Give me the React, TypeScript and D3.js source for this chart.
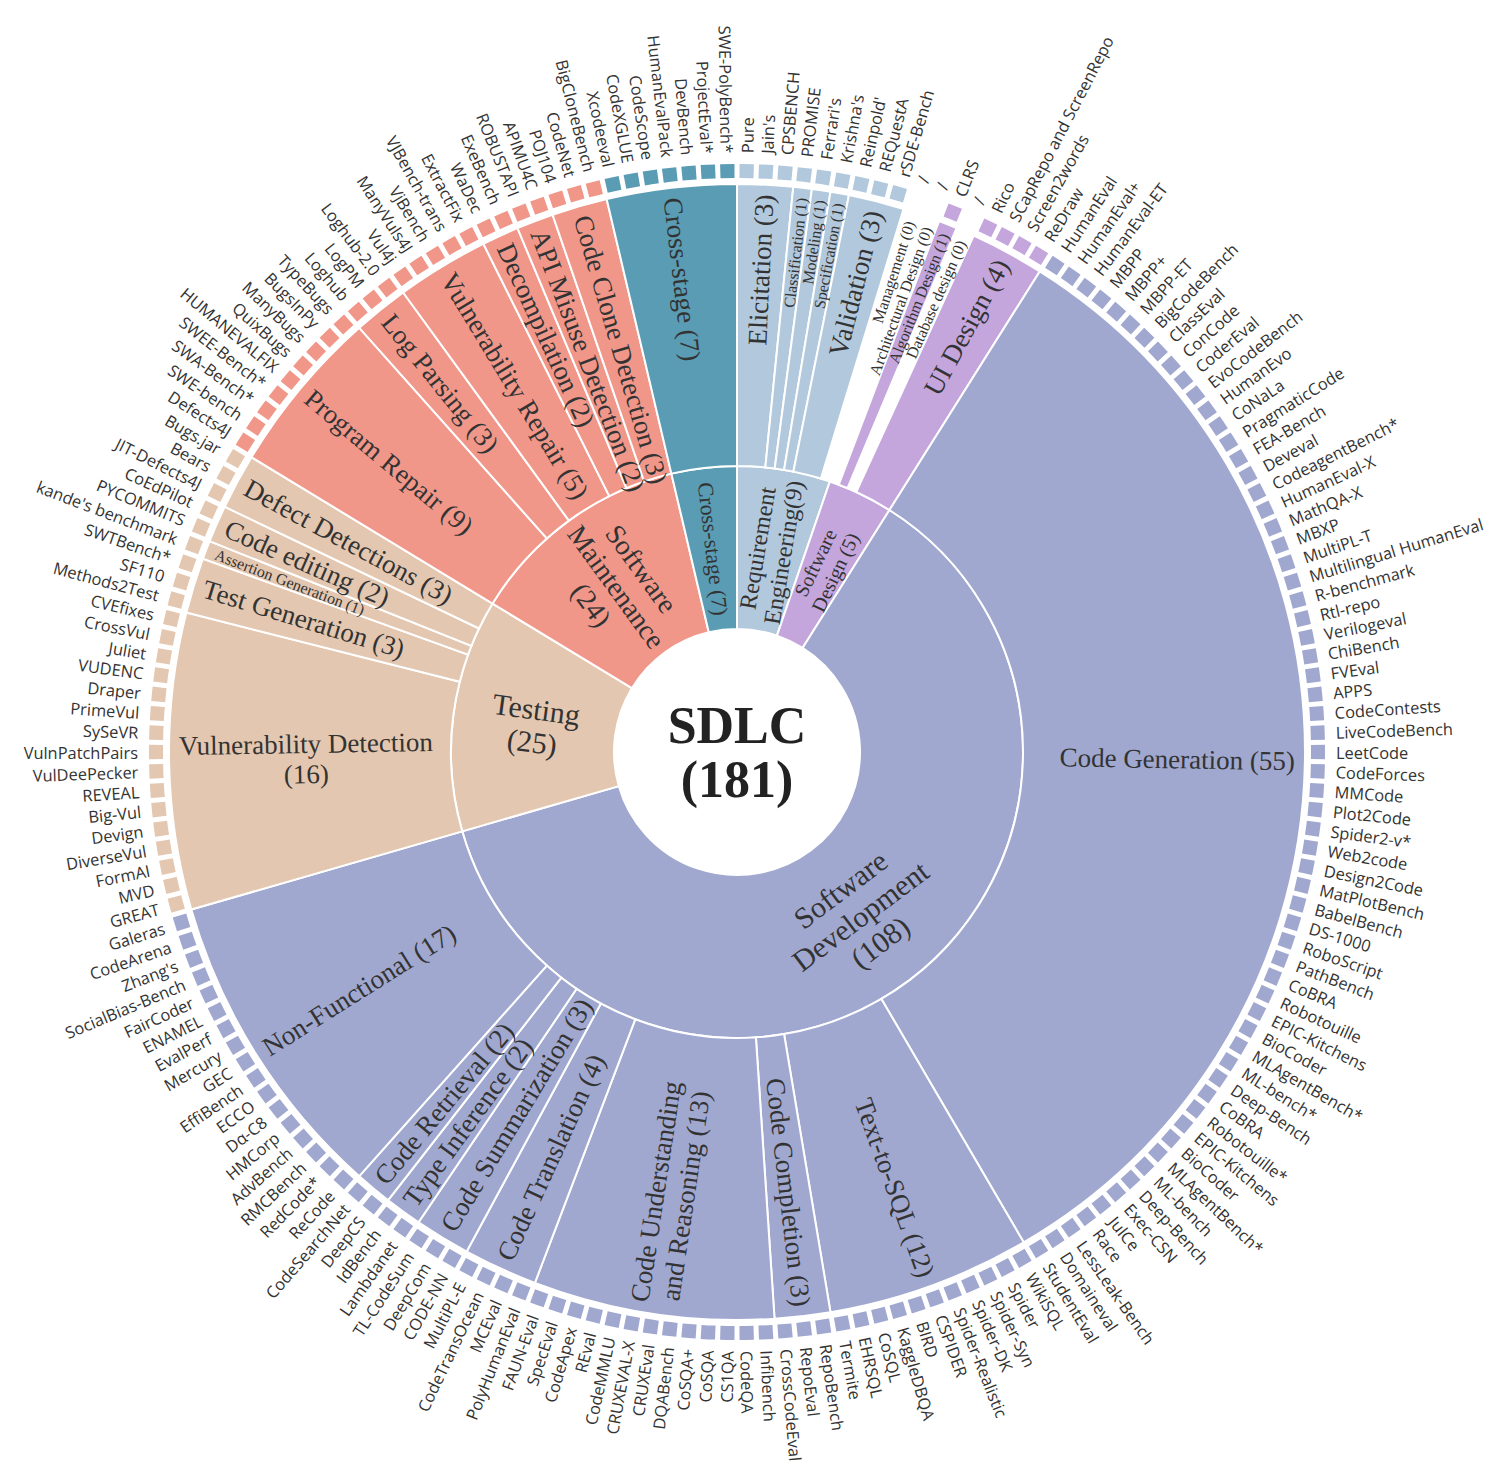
import React, { useMemo } from "react";
import * as d3 from "d3";

// ---- data: benchmarks per task, in clockwise order ----
const requirementEngineering: [string, string[]][] = [
  ["Elicitation (3)", ["Pure", "Jain's", "CPSBENCH"]],
  ["Classification (1)", ["PROMISE"]],
  ["Modeling (1)", ["Ferrari's"]],
  ["Specification (1)", ["Krishna's"]],
  ["Validation (3)", ["Reinpold'", "REQuestA", "rSDE-Bench"]],
  ["Management (0)", ["/"]],
];

const softwareDesign: [string, string[]][] = [
  ["Architectural Design (0)", ["/"]],
  ["Algorithm Design (1)", ["CLRS"]],
  ["Database design (0)", ["/"]],
  ["UI Design (4)", ["Rico", "SCapRepo and ScreenRepo", "Screen2words", "ReDraw"]],
];

const codeGeneration = [
  "HumanEval", "HumanEval+", "HumanEval-ET", "MBPP", "MBPP+", "MBPP-ET", "BigCodeBench",
  "ClassEval", "ConCode", "CoderEval", "EvoCodeBench", "HumanEvo", "CoNaLa", "PragmaticCode",
  "FEA-Bench", "Deveval", "CodeagentBench*", "HumanEval-X", "MathQA-X", "MBXP", "MultiPL-T",
  "Multilingual HumanEval", "R-benchmark", "Rtl-repo", "Verilogeval", "ChiBench", "FVEval",
  "APPS", "CodeContests", "LiveCodeBench", "LeetCode", "CodeForces", "MMCode", "Plot2Code",
  "Spider2-v*", "Web2code", "Design2Code", "MatPlotBench", "BabelBench", "DS-1000",
  "RoboScript", "PathBench", "CoBRA", "Robotouille", "EPIC-Kitchens", "BioCoder",
  "MLAgentBench*", "ML-bench*", "Deep-Bench", "CoBRA", "Robotouille*", "EPIC-Kitchens",
  "BioCoder", "MLAgentBench*", "ML-bench", "Deep-Bench", "Exec-CSN", "JulCe", "Race",
  "LessLeak-Bench", "Domaineval", "StudentEval",
];

const softwareDevelopment: [string, string[]][] = [
  ["Code Generation (55)", codeGeneration],
  ["Text-to-SQL (12)", ["WikiSQL", "Spider", "Spider-Syn", "Spider-DK", "Spider-Realistic",
    "CSPIDER", "BIRD", "KaggleDBQA", "CoSQL", "EHRSQL", "Termite"]],
  ["Code Completion (3)", ["RepoBench", "RepoEval", "CrossCodeEval"]],
  ["Code Understanding\nand Reasoning (13)", ["Infibench", "CodeQA", "CS1QA", "CoSQA", "CoSQA+",
    "DQABench", "CRUXEval", "CRUXEVAL-X", "CodeMMLU", "REval", "CodeApex", "SpecEval", "FAUN-Eval"]],
  ["Code Translation (4)", ["PolyHumanEval", "MCEval", "CodeTransOcean", "MultiPL-E"]],
  ["Code Summarization (3)", ["CODE-NN", "DeepCom", "TL-CodeSum"]],
  ["Type Inference (2)", ["Lambdanet", "IdBench"]],
  ["Code Retrieval (2)", ["DeepCS", "CodeSearchNet"]],
  ["Non-Functional (17)", ["ReCode", "RedCode*", "RMCBench", "AdvBench", "HMCorp", "Dα-C8",
    "ECCO", "EffiBench", "GEC", "Mercury", "EvalPerf", "ENAMEL", "FairCoder",
    "SocialBias-Bench", "Zhang's", "CodeArena", "Galeras"]],
];

const testing: [string, string[]][] = [
  ["Vulnerability Detection\n(16)", ["GREAT", "MVD", "FormAI", "DiverseVul", "Devign", "Big-Vul",
    "REVEAL", "VulDeePecker", "VulnPatchPairs", "SySeVR", "PrimeVul", "Draper", "VUDENC",
    "Juliet", "CrossVul", "CVEfixes"]],
  ["Test Generation (3)", ["Methods2Test", "SF110", "SWTBench*"]],
  ["Assertion Generation (1)", ["kande's benchmark"]],
  ["Code editing (2)", ["PYCOMMITS", "CoEdPilot"]],
  ["Defect Detections (3)", ["JIT-Defects4J", "Bears", "Bugs.jar"]],
];

const softwareMaintenance: [string, string[]][] = [
  ["Program Repair (9)", ["Defects4J", "SWE-bench", "SWA-Bench*", "SWEE-Bench*", "HUMANEVALFIX",
    "QuixBugs", "ManyBugs", "BugsInPy", "TypeBugs"]],
  ["Log Parsing (3)", ["Loghub", "LogPM", "Loghub-2.0"]],
  ["Vulnerability Repair (5)", ["Vul4j", "ManyVuls4J", "VjBench", "VJBench-trans", "ExtractFix"]],
  ["Decompilation (2)", ["WaDec", "ExeBench"]],
  ["API Misuse Detection (2)", ["ROBUSTAPI", "APIMU4C"]],
  ["Code Clone Detection (3)", ["POJ104", "CodeNet", "BigCloneBench"]],
];

const crossStage: [string, string[]][] = [
  ["Cross-stage (7)", ["Xcodeeval", "CodeXGLUE", "CodeScope", "HumanEvalPack", "DevBench",
    "ProjectEval*", "SWE-PolyBench*"]],
];

const stages: [string, [string, string[]][]][] = [
  ["Requirement\nEngineering(9)", requirementEngineering],
  ["Software\nDesign (5)", softwareDesign],
  ["Software\nDevelopment\n(108)", softwareDevelopment],
  ["Testing\n(25)", testing],
  ["Software\nMaintenance\n(24)", softwareMaintenance],
  ["Cross-stage (7)", crossStage],
];

const rootLabel = ["SDLC", "(181)"];

// ---- styles ----
const stageColor: Record<string, string> = {
  "Requirement\nEngineering(9)": "#B2C8DC",
  "Software\nDesign (5)": "#C4A6DD",
  "Software\nDevelopment\n(108)": "#A0A8D0",
  "Testing\n(25)": "#E4C7B0",
  "Software\nMaintenance\n(24)": "#F0978A",
  "Cross-stage (7)": "#5A9CB4",
};
const stageFont: Record<string, number> = {
  "Requirement\nEngineering(9)": 24,
  "Software\nDesign (5)": 20,
  "Software\nDevelopment\n(108)": 30,
  "Testing\n(25)": 30,
  "Software\nMaintenance\n(24)": 28,
  "Cross-stage (7)": 22,
};
const tangential = new Set(["Software\nDevelopment\n(108)"]);

const serif = '"Liberation Serif", "Times New Roman", serif';
const sans = '"Open Sans", "Noto Sans", sans-serif';
const textColor = "#333";

let ctx: CanvasRenderingContext2D | null = null;
function measure(s: string, font: string) {
  if (!ctx) ctx = document.createElement("canvas").getContext("2d");
  ctx!.font = font;
  return ctx!.measureText(s).width;
}

type Node = { name: string; children?: Node[] };

export default function App() {
  const width = 1494;
  const height = 1464;
  const cx = 737;
  const cy = 752;
  const rings = [[0, 123], [123, 286], [286, 568], [574, 588]];
  const leafLabelR = 599;

  const root = useMemo(() => {
    const data: Node = {
      name: "root",
      children: stages.map(([s, cats]) => ({
        name: s,
        children: cats.map(([c, leaves]) => ({ name: c, children: leaves.map((l) => ({ name: l })) })),
      })),
    };
    const h = d3.hierarchy<Node>(data).sum((d) => (d.children ? 0 : 1));
    return d3.partition<Node>().size([2 * Math.PI, 4])(h);
  }, []);

  const nodes = root.descendants();
  const isEmpty = (d: d3.HierarchyRectangularNode<Node>) => d.leaves().every((l) => l.data.name === "/");
  const stageOf = (d: d3.HierarchyRectangularNode<Node>) => (d.depth === 1 ? d : d.ancestors().find((a) => a.depth === 1)!);
  const deg = (d: d3.HierarchyRectangularNode<Node>) => (((d.x0 + d.x1) / 2) * 180) / Math.PI;

  const arc = d3
    .arc<d3.HierarchyRectangularNode<Node>>()
    .startAngle((d) => d.x0)
    .endAngle((d) => d.x1)
    .innerRadius((d) => rings[d.depth][0])
    .outerRadius((d) => rings[d.depth][1]);

  const gap = 5 / 581;
  const leafArc = d3
    .arc<d3.HierarchyRectangularNode<Node>>()
    .startAngle((d) => d.x0 + gap / 2)
    .endAngle((d) => d.x1 - gap / 2)
    .innerRadius(rings[3][0])
    .outerRadius(rings[3][1]);

  const radialTransform = (a: number, r: number) =>
    `rotate(${a - 90}) translate(${r},0)${a > 180 ? " rotate(180)" : ""}`;

  return (
    <svg width={width} height={height} style={{ position: "absolute", left: 0, top: 0, background: "#fff" }}>
      <g transform={`translate(${cx},${cy})`}>
        {/* rings */}
        {nodes
          .filter((d) => d.depth === 1 || d.depth === 2)
          .filter((d) => !isEmpty(d))
          .map((d, i) => (
            <path key={"a" + i} d={arc(d)!} fill={stageColor[stageOf(d).data.name]} stroke="#fff" strokeWidth={2} />
          ))}
        {/* leaf squares */}
        {root
          .leaves()
          .filter((d) => d.data.name !== "/")
          .map((d, i) => (
            <path key={"l" + i} d={leafArc(d)!} fill={stageColor[stageOf(d).data.name]} />
          ))}

        {/* leaf labels */}
        {root.leaves().map((d, i) => {
          const a = deg(d);
          return (
            <text
              key={"t" + i}
              transform={radialTransform(a, leafLabelR)}
              textAnchor={a > 180 ? "end" : "start"}
              dominantBaseline="central"
              fontFamily={sans}
              fontSize={16.4}
              fill={textColor}
            >
              {d.data.name}
            </text>
          );
        })}

        {/* task labels (outer ring) */}
        {nodes
          .filter((d) => d.depth === 2)
          .map((d, i) => {
            const a = deg(d);
            const fs = d.leaves().length <= 1 ? 16 : 27;
            const lines = d.data.name.split("\n");
            const w = d3.max(lines, (l) => measure(l, `${fs}px ${serif}`))!;
            const r = rings[2][1] - w / 2 - 10;
            const lh = fs * 1.12;
            return (
              <text
                key={"c" + i}
                transform={radialTransform(a, r)}
                textAnchor="middle"
                dominantBaseline="central"
                fontFamily={serif}
                fontSize={fs}
                fill={textColor}
              >
                {lines.map((l, j) => (
                  <tspan key={j} x={0} y={(j - (lines.length - 1) / 2) * lh}>
                    {l}
                  </tspan>
                ))}
              </text>
            );
          })}

        {/* stage labels (inner ring) */}
        {nodes
          .filter((d) => d.depth === 1)
          .map((d, i) => {
            const a = deg(d);
            const fs = stageFont[d.data.name];
            const lines = d.data.name.split("\n");
            const r = (rings[1][0] + rings[1][1]) / 2;
            const lh = fs * 1.1;
            const tf = tangential.has(d.data.name)
              ? `rotate(${a - 90}) translate(${r},0) rotate(${a > 90 && a < 270 ? -90 : 90})`
              : radialTransform(a, r);
            return (
              <text
                key={"s" + i}
                transform={tf}
                textAnchor="middle"
                dominantBaseline="central"
                fontFamily={serif}
                fontSize={fs}
                fill={textColor}
              >
                {lines.map((l, j) => (
                  <tspan key={j} x={0} y={(j - (lines.length - 1) / 2) * lh}>
                    {l}
                  </tspan>
                ))}
              </text>
            );
          })}

        {/* center */}
        <text textAnchor="middle" dominantBaseline="central" fontFamily={serif} fontWeight="bold" fontSize={52} fill="#222">
          {rootLabel.map((l, j) => (
            <tspan key={j} x={0} y={(j - 0.5) * 54}>
              {l}
            </tspan>
          ))}
        </text>
      </g>
    </svg>
  );
}
